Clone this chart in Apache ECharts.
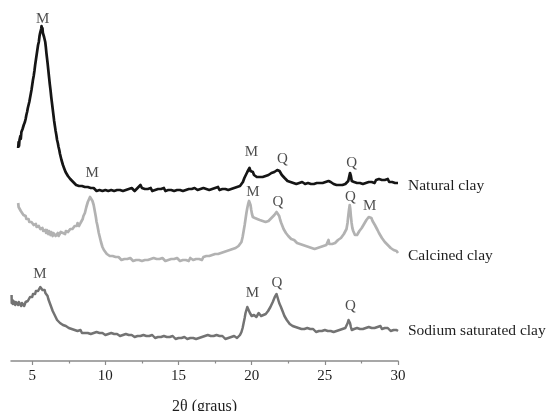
<!DOCTYPE html>
<html>
<head>
<meta charset="utf-8">
<script src="https://cdn.jsdelivr.net/npm/echarts@6/dist/echarts.min.js"></script>
<style>
  html, body { margin: 0; padding: 0; background: #fff; }
  #chart { width: 550px; height: 411px; }
</style>
</head>
<body>
<div id="chart"></div>
<script>
// X-ray diffraction patterns, [2θ (degrees), intensity (a.u., offset per pattern)]
const naturalClay = [
  [4.04,213],[4.07,219],[4.10,215],[4.13,221],[4.16,219],[4.19,225],[4.22,222],[4.26,229],[4.30,227],[4.34,232],
  [4.38,230],[4.42,236],[4.46,235],[4.50,239],[4.55,242],[4.60,246],[4.65,249],[4.70,253],[4.75,256],[4.80,259],
  [4.85,263],[4.90,267],[4.95,271],[5.00,276],[5.05,281],[5.10,285],[5.15,290],[5.20,296],[5.25,301],[5.30,306],
  [5.35,311],[5.40,316],[5.45,319],[5.50,325],[5.54,328],[5.58,326],[5.61,332],[5.64,335],[5.67,330],[5.70,333],
  [5.73,328],[5.77,330],[5.81,324],[5.85,325],[5.89,319],[5.93,314],[5.97,308],[6.01,303],[6.05,298],[6.10,291],
  [6.15,284],[6.20,277],[6.25,271],[6.30,264],[6.35,258],[6.40,252],[6.45,246],[6.50,240],[6.55,235],[6.60,230],
  [6.65,226],[6.70,221],[6.75,218],[6.80,214],[6.85,211],[6.90,207],[6.95,205],[7.00,201],[7.05,199],[7.10,196],
  [7.15,194],[7.20,192],[7.28,189],[7.36,188],[7.44,185],[7.52,184],[7.60,182],[7.70,181],[7.80,179],[7.90,178],
  [8.00,176],[8.10,177],[8.20,175],[8.30,174],[8.40,175],[8.50,173],[8.60,174],[8.70,172],[8.80,174],[8.90,172],
  [9.00,173],[9.10,171],[9.20,173],[9.30,172],[9.40,170],[9.50,172],[9.60,171],[9.70,173],[9.80,170],[9.90,172],
  [10.0,171],[10.1,173],[10.2,170],[10.3,172],[10.4,171],[10.5,173],[10.6,170],[10.7,172],[10.8,171],[10.9,169],
  [11.0,171],[11.1,173],[11.2,170],[11.3,172],[11.4,171],[11.5,169],[11.6,172],[11.7,171],[11.8,173],[11.9,171],
  [12.0,170],[12.1,172],[12.2,173],[12.3,175],[12.4,176],[12.5,173],[12.6,171],[12.7,172],[12.8,170],[12.9,172],
  [13.0,171],[13.1,173],[13.2,170],[13.3,172],[13.4,171],[13.5,169],[13.6,172],[13.7,170],[13.8,172],[13.9,171],
  [14.0,173],[14.1,170],[14.2,172],[14.3,171],[14.4,173],[14.5,171],[14.6,172],[14.7,170],[14.8,172],[14.9,171],
  [15.0,173],[15.1,171],[15.2,172],[15.3,170],[15.4,172],[15.5,171],[15.6,173],[15.7,172],[15.8,170],[15.9,172],
  [16.0,171],[16.1,173],[16.2,172],[16.3,171],[16.4,173],[16.5,172],[16.6,170],[16.7,173],[16.8,171],[16.9,172],
  [17.0,174],[17.1,171],[17.2,173],[17.3,172],[17.4,170],[17.5,173],[17.6,172],[17.7,174],[17.8,171],[17.9,173],
  [18.0,172],[18.1,174],[18.2,172],[18.3,173],[18.4,171],[18.5,173],[18.6,172],[18.7,174],[18.8,173],[18.9,172],
  [19.0,174],[19.1,173],[19.2,175],[19.3,176],[19.4,179],[19.5,183],[19.6,186],[19.7,189],[19.78,191],[19.85,193],
  [19.92,190],[20.0,188],[20.08,189],[20.16,186],[20.25,185],[20.35,184],[20.45,185],[20.55,184],[20.65,185],[20.75,184],
  [20.85,186],[20.95,185],[21.05,185],[21.15,186],[21.25,186],[21.35,188],[21.45,187],[21.55,189],[21.65,188],[21.75,191],
  [21.82,189],[21.9,190],[21.98,188],[22.06,186],[22.15,185],[22.25,183],[22.35,182],[22.45,180],[22.55,181],[22.65,179],
  [22.75,180],[22.85,178],[22.95,179],[23.05,177],[23.15,179],[23.25,178],[23.35,177],[23.45,179],[23.55,178],[23.65,177],
  [23.75,179],[23.85,178],[23.95,179],[24.05,177],[24.15,178],[24.25,177],[24.35,179],[24.45,178],[24.55,177],[24.65,178],
  [24.75,179],[24.85,178],[24.95,177],[25.05,179],[25.15,178],[25.25,180],[25.32,182],[25.4,179],[25.5,178],[25.6,177],
  [25.7,178],[25.8,176],[25.9,177],[26.0,176],[26.1,177],[26.2,176],[26.3,178],[26.4,177],[26.5,178],[26.6,180],
  [26.66,184],[26.72,188],[26.78,185],[26.84,180],[26.9,178],[27.0,179],[27.1,177],[27.2,178],[27.3,180],[27.4,178],
  [27.5,179],[27.6,177],[27.7,179],[27.8,178],[27.9,180],[28.0,179],[28.1,181],[28.2,179],[28.3,180],[28.4,178],
  [28.5,181],[28.6,180],[28.7,182],[28.8,180],[28.9,181],[29.0,179],[29.1,181],[29.2,180],[29.3,182],[29.4,179],
  [29.5,181],[29.6,179],[29.7,180],[29.8,178],[29.9,179],[30.0,178]
];

const calcinedClay = [
  [4.04,158],[4.07,154],[4.10,156],[4.14,152],[4.18,153],[4.22,150],[4.26,151],[4.30,148],[4.35,149],[4.40,146],
  [4.45,147],[4.50,144],[4.55,145],[4.60,142],[4.65,143],[4.70,140],[4.75,142],[4.80,139],[4.85,141],[4.90,138],
  [4.95,139],[5.00,137],[5.05,139],[5.10,136],[5.15,137],[5.20,135],[5.25,137],[5.30,134],[5.35,136],[5.40,133],
  [5.45,135],[5.50,134],[5.55,132],[5.60,134],[5.65,131],[5.70,133],[5.75,130],[5.80,132],[5.85,129],[5.90,131],
  [5.95,128],[6.00,131],[6.05,129],[6.10,127],[6.15,130],[6.20,128],[6.25,126],[6.30,129],[6.35,127],[6.40,125],
  [6.45,128],[6.50,126],[6.55,128],[6.60,125],[6.65,127],[6.70,126],[6.75,128],[6.80,125],[6.85,127],[6.90,126],
  [6.95,129],[7.00,127],[7.05,129],[7.10,128],[7.15,126],[7.20,129],[7.25,127],[7.30,130],[7.35,128],[7.40,131],
  [7.45,129],[7.50,131],[7.55,130],[7.60,132],[7.65,131],[7.70,133],[7.75,132],[7.80,134],[7.85,133],[7.90,135],
  [7.95,134],[8.00,137],[8.05,135],[8.10,138],[8.15,136],[8.20,135],[8.25,133],[8.30,138],[8.35,140],[8.40,138],
  [8.45,142],[8.50,145],[8.55,144],[8.60,148],[8.65,151],[8.70,154],[8.75,156],[8.80,159],[8.85,161],[8.90,160],
  [8.95,164],[9.00,165],[9.04,162],[9.08,163],[9.12,160],[9.16,158],[9.20,156],[9.25,152],[9.30,148],[9.35,144],
  [9.40,139],[9.45,136],[9.50,132],[9.55,128],[9.60,125],[9.65,122],[9.70,119],[9.75,117],[9.80,114],[9.85,113],
  [9.90,111],[9.95,110],[10.0,109],[10.1,107],[10.2,106],[10.3,105],[10.4,104],[10.5,105],[10.6,103],[10.7,104],
  [10.8,102],[10.9,104],[11.0,103],[11.1,101],[11.2,103],[11.3,102],[11.4,104],[11.5,102],[11.6,101],[11.7,103],
  [11.8,102],[11.9,100],[12.0,102],[12.1,101],[12.2,103],[12.3,101],[12.4,102],[12.5,100],[12.6,102],[12.7,101],
  [12.8,103],[12.9,101],[13.0,100],[13.1,102],[13.2,101],[13.3,103],[13.4,101],[13.5,102],[13.6,100],[13.7,102],
  [13.8,101],[13.9,103],[14.0,101],[14.1,100],[14.2,102],[14.3,101],[14.4,103],[14.5,102],[14.6,100],[14.7,102],
  [14.8,101],[14.9,103],[15.0,102],[15.1,100],[15.2,102],[15.3,101],[15.4,103],[15.5,101],[15.6,102],[15.7,100],
  [15.8,103],[15.9,102],[16.0,101],[16.1,103],[16.2,102],[16.3,104],[16.4,102],[16.5,103],[16.6,101],[16.7,104],
  [16.8,103],[16.9,105],[17.0,103],[17.1,105],[17.2,104],[17.3,106],[17.4,104],[17.5,107],[17.6,105],[17.7,107],
  [17.8,106],[17.9,108],[18.0,107],[18.1,109],[18.2,108],[18.3,110],[18.4,109],[18.5,111],[18.6,110],[18.7,112],
  [18.8,111],[18.9,113],[19.0,114],[19.1,115],[19.2,117],[19.3,119],[19.38,124],[19.45,130],[19.52,136],[19.58,142],
  [19.64,148],[19.70,153],[19.76,157],[19.82,160],[19.87,161],[19.92,156],[19.97,151],[20.02,147],[20.08,144],[20.15,142],
  [20.22,143],[20.30,141],[20.38,142],[20.46,140],[20.55,141],[20.65,139],[20.75,140],[20.85,138],[20.95,139],[21.05,138],
  [21.15,140],[21.25,141],[21.35,143],[21.45,144],[21.55,146],[21.62,147],[21.70,149],[21.76,150],[21.82,147],[21.88,145],
  [21.95,141],[22.02,138],[22.10,135],[22.18,132],[22.26,130],[22.34,128],[22.42,126],[22.50,125],[22.60,123],[22.70,122],
  [22.80,120],[22.90,121],[23.00,119],[23.10,118],[23.20,119],[23.30,117],[23.40,118],[23.50,116],[23.60,117],[23.70,115],
  [23.80,116],[23.90,114],[24.00,115],[24.10,113],[24.20,114],[24.30,112],[24.40,114],[24.50,113],[24.60,112],[24.70,114],
  [24.80,113],[24.90,115],[25.00,114],[25.10,116],[25.20,118],[25.25,121],[25.30,117],[25.40,118],[25.50,117],[25.60,119],
  [25.70,118],[25.80,120],[25.90,121],[26.00,122],[26.10,123],[26.20,125],[26.30,127],[26.40,129],[26.48,132],[26.55,138],
  [26.60,145],[26.65,151],[26.70,156],[26.74,152],[26.78,145],[26.83,138],[26.88,133],[26.94,130],[27.00,128],[27.06,126],
  [27.12,125],[27.20,126],[27.28,128],[27.36,130],[27.44,132],[27.52,133],[27.60,135],[27.68,137],[27.76,139],[27.84,141],
  [27.92,142],[28.00,144],[28.06,146],[28.12,144],[28.18,143],[28.26,140],[28.34,138],[28.42,136],[28.50,134],[28.60,131],
  [28.70,128],[28.80,126],[28.90,123],[29.00,121],[29.10,119],[29.20,117],[29.30,116],[29.40,114],[29.50,113],[29.60,111],
  [29.70,111],[29.80,109],[29.90,110],[30.0,108]
];

const sodiumClay = [
  [3.59,66],[3.60,58],[3.64,61],[3.68,57],[3.72,60],[3.76,58],[3.80,59],[3.84,56],[3.88,59],[3.92,57],
  [3.96,60],[4.00,58],[4.04,56],[4.08,59],[4.12,57],[4.16,60],[4.20,57],[4.25,55],[4.30,58],[4.35,56],
  [4.40,58],[4.45,55],[4.50,57],[4.55,59],[4.60,58],[4.65,61],[4.70,60],[4.75,62],[4.80,61],[4.85,64],
  [4.90,63],[4.95,65],[5.00,64],[5.05,67],[5.10,66],[5.15,68],[5.20,67],[5.25,70],[5.30,69],[5.35,71],
  [5.40,70],[5.45,72],[5.50,71],[5.55,74],[5.60,72],[5.65,73],[5.70,71],[5.75,72],[5.80,70],[5.85,71],
  [5.90,68],[5.95,69],[6.00,66],[6.05,65],[6.10,62],[6.15,61],[6.20,58],[6.25,57],[6.30,54],[6.35,53],
  [6.40,50],[6.45,50],[6.50,47],[6.55,46],[6.60,44],[6.65,44],[6.70,41],[6.75,41],[6.80,39],[6.90,38],
  [7.00,36],[7.10,36],[7.20,34],[7.30,35],[7.40,33],[7.50,33],[7.60,31],[7.70,32],[7.80,30],[7.90,31],
  [8.00,29],[8.10,30],[8.20,29],[8.30,31],[8.40,28],[8.50,29],[8.60,28],[8.70,30],[8.80,28],[8.90,29],
  [9.00,27],[9.10,29],[9.20,28],[9.30,27],[9.40,29],[9.50,27],[9.60,28],[9.70,26],[9.80,28],[9.90,27],
  [10.0,26],[10.1,28],[10.2,27],[10.3,26],[10.4,28],[10.5,26],[10.6,27],[10.7,25],[10.8,27],[10.9,26],
  [11.0,25],[11.1,27],[11.2,26],[11.3,25],[11.4,27],[11.5,25],[11.6,26],[11.7,24],[11.8,26],[11.9,25],
  [12.0,24],[12.1,26],[12.2,25],[12.3,27],[12.4,25],[12.5,24],[12.6,26],[12.7,24],[12.8,25],[12.9,23],
  [13.0,25],[13.1,24],[13.2,26],[13.3,24],[13.4,23],[13.5,25],[13.6,24],[13.7,22],[13.8,24],[13.9,23],
  [14.0,25],[14.1,23],[14.2,24],[14.3,22],[14.4,24],[14.5,23],[14.6,25],[14.7,23],[14.8,22],[14.9,24],
  [15.0,23],[15.1,25],[15.2,23],[15.3,22],[15.4,24],[15.5,23],[15.6,22],[15.7,24],[15.8,23],[15.9,25],
  [16.0,23],[16.1,24],[16.2,22],[16.3,24],[16.4,23],[16.5,25],[16.6,24],[16.7,23],[16.8,25],[16.9,24],
  [17.0,26],[17.1,24],[17.2,25],[17.3,23],[17.4,25],[17.5,24],[17.6,26],[17.7,24],[17.8,25],[17.9,23],
  [18.0,25],[18.1,24],[18.2,22],[18.3,24],[18.4,23],[18.5,25],[18.6,24],[18.7,23],[18.8,25],[18.9,24],
  [19.0,23],[19.1,25],[19.2,26],[19.3,29],[19.38,33],[19.45,38],[19.52,43],[19.58,48],[19.64,51],[19.70,54],
  [19.76,55],[19.82,52],[19.88,48],[19.94,46],[20.00,45],[20.08,44],[20.16,46],[20.24,45],[20.32,44],[20.40,46],
  [20.48,48],[20.56,47],[20.64,45],[20.72,44],[20.80,46],[20.88,45],[20.96,47],[21.04,48],[21.12,50],[21.20,52],
  [21.28,54],[21.36,56],[21.44,59],[21.52,61],[21.58,64],[21.64,66],[21.70,67],[21.76,64],[21.82,61],[21.88,58],
  [21.94,56],[22.00,54],[22.08,51],[22.16,48],[22.24,45],[22.32,43],[22.40,41],[22.50,39],[22.60,37],[22.70,36],
  [22.80,35],[22.90,36],[23.00,34],[23.10,35],[23.20,33],[23.30,34],[23.40,32],[23.50,34],[23.60,32],[23.70,31],
  [23.80,33],[23.90,31],[24.00,32],[24.10,30],[24.20,32],[24.30,31],[24.40,29],[24.50,31],[24.60,30],[24.70,32],
  [24.80,30],[24.90,29],[25.00,31],[25.10,29],[25.20,30],[25.30,32],[25.40,30],[25.50,31],[25.60,29],[25.70,31],
  [25.80,30],[25.90,32],[26.00,31],[26.10,30],[26.20,32],[26.30,31],[26.40,33],[26.50,35],[26.56,38],[26.62,41],
  [26.67,42],[26.72,38],[26.78,34],[26.84,31],[26.90,30],[27.00,32],[27.10,31],[27.20,33],[27.30,31],[27.40,32],
  [27.50,30],[27.60,32],[27.70,31],[27.80,33],[27.90,32],[28.00,34],[28.10,32],[28.20,33],[28.30,31],[28.40,33],
  [28.50,32],[28.60,34],[28.70,33],[28.80,35],[28.90,32],[29.00,34],[29.10,33],[29.20,31],[29.30,33],[29.40,32],
  [29.50,30],[29.60,32],[29.70,31],[29.80,30],[29.90,31],[30.0,30]
];

// Phase markers: [2θ, intensity, phase] (M = montmorillonite, Q = quartz)
const naturalPeaks = [[5.71,342,'M'],[19.99,209,'M'],[22.10,202,'Q'],[26.84,198,'Q']];
const calcinedPeaks = [[9.10,188,'M'],[20.09,169,'M'],[21.80,159,'Q'],[26.75,164,'Q'],[28.07,155,'M']];
const sodiumPeaks = [[5.53,87,'M'],[20.05,68,'M'],[21.73,78,'Q'],[26.75,55,'Q']];

const seriesNames = ['Natural clay', 'Calcined clay', 'Sodium saturated clay'];
const majorTicks = [5, 10, 15, 20, 25, 30];
const minorTicks = [7.5, 12.5, 17.5, 22.5, 27.5];

const FONT = 'Liberation Serif';
const TEXT = '#1e1e1e';
const AXIS = '#8a8a8a';

function pattern(name, data, color, width, endOffset) {
  return {
    type: 'line', name: name, data: data,
    showSymbol: false, symbol: 'none', silent: true,
    lineStyle: { color: color, width: width, join: 'round' },
    endLabel: {
      show: true, formatter: name, distance: 10, offset: [0, endOffset],
      color: TEXT, fontFamily: FONT, fontSize: 15.5
    },
    z: 2
  };
}

function markers(list) {
  return {
    type: 'scatter', symbolSize: 0, silent: true, clip: false,
    data: list.map(p => ({ value: [p[0], p[1]], name: p[2] })),
    label: {
      show: true, position: 'inside', formatter: '{b}',
      color: TEXT, fontFamily: FONT, fontSize: 15
    },
    z: 3
  };
}

const chart = echarts.init(document.getElementById('chart'), null, { renderer: 'canvas' });
chart.setOption({
  animation: false,
  backgroundColor: '#ffffff',
  grid: { left: 11, right: 152, top: 11, bottom: 50, outerBoundsMode: 'none', containLabel: false },
  xAxis: [
    {
      type: 'value', min: 3.55, max: 30,
      name: '2θ (graus)', nameLocation: 'middle', nameGap: 38,
      nameTextStyle: { color: TEXT, fontFamily: FONT, fontSize: 16 },
      axisLine: { show: true, lineStyle: { color: AXIS, width: 1.5 } },
      axisTick: { show: true, customValues: majorTicks, length: 4, inside: false, lineStyle: { color: AXIS, width: 1.2 } },
      axisLabel: { show: true, customValues: majorTicks, margin: 8, color: TEXT, fontFamily: FONT, fontSize: 15 },
      splitLine: { show: false }
    },
    {
      type: 'value', min: 3.55, max: 30, position: 'bottom', gridIndex: 0,
      axisLine: { show: false },
      axisTick: { show: true, customValues: minorTicks, length: 2.5, lineStyle: { color: AXIS, width: 1.2 } },
      axisLabel: { show: false },
      splitLine: { show: false }
    }
  ],
  yAxis: { type: 'value', min: 0, max: 350, show: false, splitLine: { show: false } },
  series: [
    pattern(seriesNames[0], naturalClay, '#151515', 2.7, 3),
    pattern(seriesNames[1], calcinedClay, '#b2b2b2', 2.7, 3),
    pattern(seriesNames[2], sodiumClay, '#737373', 2.5, 0),
    markers(naturalPeaks),
    markers(calcinedPeaks),
    markers(sodiumPeaks)
  ]
});
</script>
</body>
</html>
